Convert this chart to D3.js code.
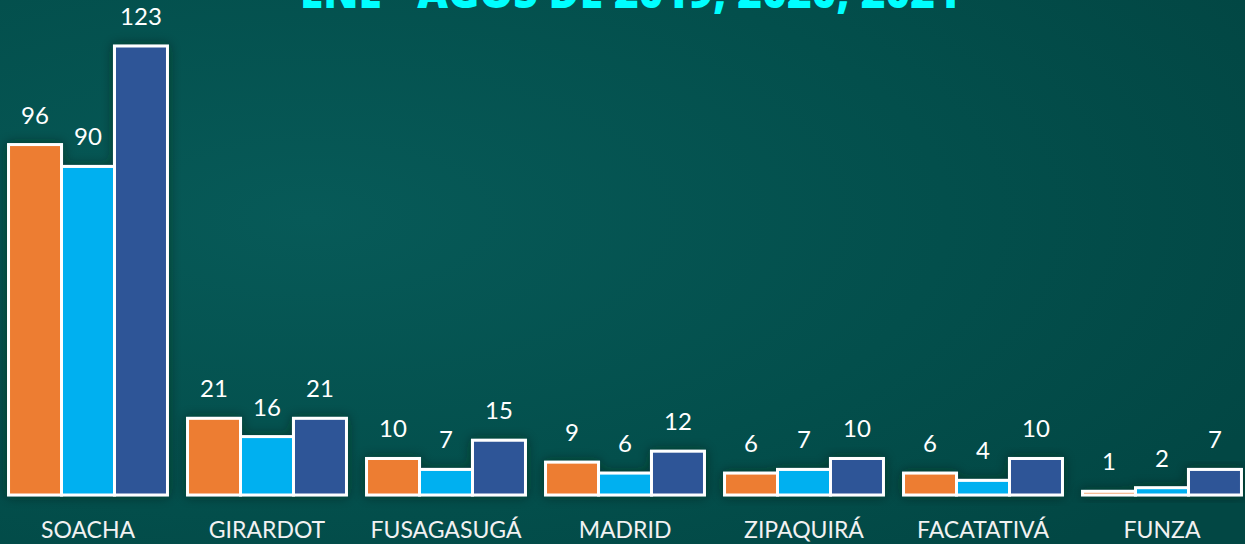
<!DOCTYPE html>
<html><head><meta charset="utf-8">
<script src="https://cdn.jsdelivr.net/npm/d3@7"></script>
<style>html,body{margin:0;padding:0;overflow:hidden;background:#024d4a}</style>
</head><body>
<svg id="chart" width="1245" height="544"></svg>
<script>
const categories = ["SOACHA","GIRARDOT","FUSAGASUGÁ","MADRID","ZIPAQUIRÁ","FACATATIVÁ","FUNZA"];
const seriesNames = ["2019","2020","2021"];
const values2019 = [96,21,10,9,6,6,1];
const values2020 = [90,16,7,6,7,4,2];
const values2021 = [123,21,15,12,10,10,7];
const seriesColors = ["#ED7D31","#00B0F0","#2F5597"];
const titleText = "ENE - AGOS DE 2019, 2020, 2021";

const W = 1245, H = 544;
const svg = d3.select("#chart");
const defs = svg.append("defs");
const bg = defs.append("radialGradient").attr("id","bg")
  .attr("cx","0.25").attr("cy","0.4").attr("r","0.85");
bg.append("stop").attr("offset","0%").attr("stop-color","#075a58");
bg.append("stop").attr("offset","60%").attr("stop-color","#034f4c");
bg.append("stop").attr("offset","100%").attr("stop-color","#024744");
svg.append("rect").attr("width",W).attr("height",H).attr("fill","url(#bg)");

const f = defs.append("filter").attr("id","sh").attr("x","-30%").attr("y","-30%").attr("width","160%").attr("height","160%");
f.append("feDropShadow").attr("dx",0).attr("dy",0).attr("stdDeviation",6)
  .attr("flood-color","#001a18").attr("flood-opacity",0.5);

const series = [values2019, values2020, values2021];
const data = categories.map((c,i)=>({cat:c, vals: series.map((s,k)=>({k, v:s[i]}))}));

const x0 = d3.scaleBand().domain(categories).range([-1.5,1251.5]).paddingInner(0.112).paddingOuter(0.056);
const x1 = d3.scaleBand().domain(d3.range(seriesNames.length)).range([0,x0.bandwidth()]).padding(0);
const y = d3.scaleLinear().domain([0,123]).range([495,46]);

const g = svg.append("g");
const groups = g.selectAll("g.grp").data(data).join("g").attr("class","grp")
  .attr("transform",d=>`translate(${x0(d.cat)},0)`);

groups.append("g").attr("filter","url(#sh)").selectAll("rect").data(d=>d.vals).join("rect")
  .attr("x",d=>x1(d.k)).attr("width",x1.bandwidth())
  .attr("y",d=>y(d.v)).attr("height",d=>y(0)-y(d.v))
  .attr("fill",d=>seriesColors[d.k]).attr("stroke","#ffffff").attr("stroke-width",3);

groups.selectAll("text.val").data(d=>d.vals).join("text").attr("class","val")
  .attr("x",d=>x1(d.k)+x1.bandwidth()/2).attr("y",d=>y(d.v)-21)
  .attr("text-anchor","middle").attr("fill","#ffffff")
  .style("font-family","Lato, 'Open Sans', sans-serif").style("font-size","24px")
  .text(d=>d.v);

const xAxis = d3.axisBottom(x0).tickSize(0).tickPadding(0);
const ax = svg.append("g").attr("transform","translate(0,520)").call(xAxis);
ax.select(".domain").remove();
ax.selectAll("text").attr("dy",null).attr("y",18).attr("fill","#f2f2f2")
  .style("font-family","Lato, 'Open Sans', sans-serif").style("font-size","23px");

svg.append("text").attr("x",630).attr("y",7.5).attr("text-anchor","middle")
  .attr("fill","#00FFFF").style("font-family","'Open Sans', Lato, sans-serif")
  .style("font-weight","800").style("font-size","44px")
  .attr("textLength",660).attr("lengthAdjust","spacingAndGlyphs")
  .text(titleText);
</script>
</body></html>
